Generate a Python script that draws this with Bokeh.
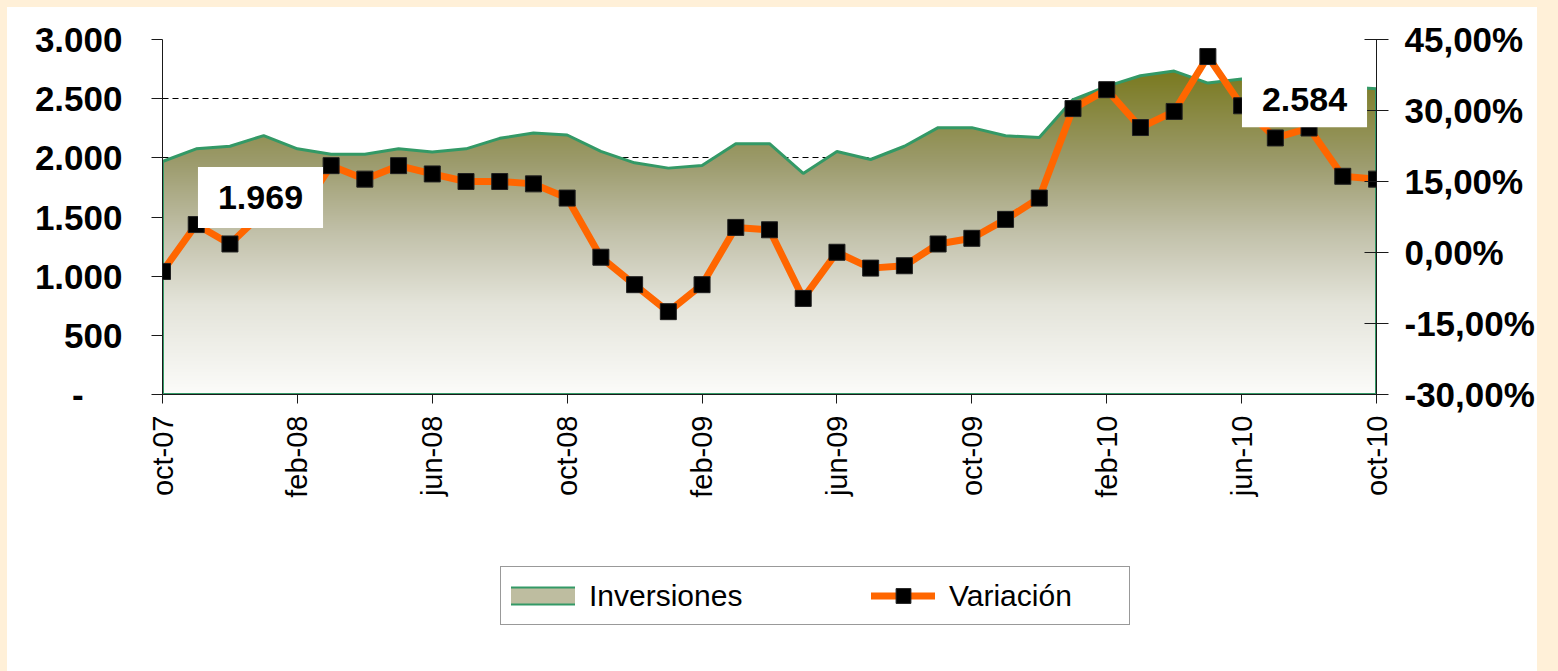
import numpy as np
from bokeh.plotting import figure
from bokeh.layouts import column
from bokeh.models import Range1d, LinearAxis, FixedTicker, Label, Legend, LegendItem
from bokeh.core.properties import value
from bokeh.embed import file_html
from bokeh.resources import INLINE

# ---------------- data ----------------
months = ["oct-07", "nov-07", "dic-07", "ene-08", "feb-08", "mar-08", "abr-08", "may-08",
          "jun-08", "jul-08", "ago-08", "sep-08", "oct-08", "nov-08", "dic-08", "ene-09",
          "feb-09", "mar-09", "abr-09", "may-09", "jun-09", "jul-09", "ago-09", "sep-09",
          "oct-09", "nov-09", "dic-09", "ene-10", "feb-10", "mar-10", "abr-10", "may-10",
          "jun-10", "jul-10", "ago-10", "sep-10", "oct-10"]

inversiones = [1969, 2076, 2098, 2188, 2076, 2030, 2030, 2076, 2050, 2076,
               2165, 2210, 2193, 2055, 1958, 1913, 1935, 2120, 2120, 1868,
               2053, 1986, 2098, 2255, 2255, 2187, 2171, 2492, 2604, 2694,
               2733, 2632, 2666, 2650, 2620, 2600, 2584]

variacion = [-4.0, 5.9, 1.8, 8.6, 7.5, 18.35, 15.5, 18.35, 16.6, 15.0,
             15.0, 14.5, 11.5, -1.0, -6.8, -12.5, -6.8, 5.3, 4.8, -9.7,
             0.05, -3.3, -2.8, 1.8, 3.0, 7.0, 11.5, 30.4, 34.4, 26.4,
             29.8, 41.4, 31.0, 24.2, 26.3, 16.1, 15.5]

left_ticks = [0, 500, 1000, 1500, 2000, 2500, 3000]
left_labels = ["-\u2007\u2007", "500", "1.000", "1.500", "2.000", "2.500", "3.000"]
right_ticks = [-30, -15, 0, 15, 30, 45]
right_labels = ["-30,00%", "-15,00%", "0,00%", "15,00%", "30,00%", "45,00%"]
x_tick_step = 4

# ---------------- styles ----------------
n = len(months)
x = np.arange(n)
FONT = "Liberation Sans"
GREEN = "#339966"
ORANGE = "#FF6600"
AXIS = "#1a1a1a"

p = figure(width=1530, height=533, output_backend="svg", toolbar_location=None,
           x_range=Range1d(0, n - 1), y_range=Range1d(left_ticks[0], left_ticks[-1]),
           min_border_left=155, min_border_right=157, min_border_top=32, min_border_bottom=146,
           background_fill_color="white", border_fill_color="white", outline_line_color=None)
p.extra_y_ranges = {"pct": Range1d(right_ticks[0], right_ticks[-1])}

# grid
p.xgrid.visible = False
p.ygrid.ticker = FixedTicker(ticks=left_ticks[1:-1])
p.ygrid.grid_line_color = "#000000"
p.ygrid.grid_line_dash = "6 4"
p.ygrid.grid_line_width = 1

# bottom axis
xa = p.xaxis[0]
xa.ticker = FixedTicker(ticks=list(range(0, n, x_tick_step)))
xa.major_label_overrides = {int(i): months[i] for i in range(0, n, x_tick_step)}
xa.major_label_orientation = np.pi / 2
xa.major_tick_out = 9
xa.major_tick_in = 0
xa.minor_tick_out = 0
xa.minor_tick_in = 0
xa.axis_line_color = AXIS
xa.major_tick_line_color = AXIS
xa.major_label_standoff = 12
xa.major_label_text_font = FONT
xa.major_label_text_font_size = "29px"
xa.major_label_text_color = "black"

# left axis
ya = p.yaxis[0]
ya.ticker = FixedTicker(ticks=left_ticks)
ya.major_label_overrides = {t: l for t, l in zip(left_ticks, left_labels)}
ya.major_tick_out = 11
ya.major_tick_in = 0
ya.minor_tick_out = 0
ya.minor_tick_in = 0
ya.axis_line_color = AXIS
ya.major_tick_line_color = AXIS
ya.major_label_standoff = 29
ya.major_label_text_font = FONT
ya.major_label_text_font_style = "bold"
ya.major_label_text_font_size = "35px"
ya.major_label_text_color = "black"

# right axis
ra = LinearAxis(y_range_name="pct", ticker=FixedTicker(ticks=right_ticks),
                major_label_overrides={t: l for t, l in zip(right_ticks, right_labels)},
                major_tick_out=12, major_tick_in=12, minor_tick_out=0, minor_tick_in=0,
                axis_line_color=AXIS, major_tick_line_color=AXIS,
                major_label_standoff=16, major_label_text_font=FONT,
                major_label_text_font_style="bold", major_label_text_font_size="35px",
                major_label_text_color="black")
p.add_layout(ra, "right")

# ---------------- gradient area (Inversiones) ----------------
nx, ny = 1218, 355
y_lo, y_hi = left_ticks[0], left_ticks[-1]
xs = (np.arange(nx) + 0.5) / nx * (n - 1)
ys = y_lo + (np.arange(ny) + 0.5) / ny * (y_hi - y_lo)
curve = np.interp(xs, x, inversiones)
top = max(inversiones)
t = np.clip((top - ys) / top, 0, 1)
stop_t = [0.0, 0.28, 0.5, 0.72, 1.0]
rr = np.interp(t, stop_t, [122, 156, 194, 228, 252])
gg = np.interp(t, stop_t, [122, 155, 193, 228, 252])
bb = np.interp(t, stop_t, [32, 108, 170, 218, 250])
img = np.zeros((ny, nx), dtype=np.uint32)
view = img.view(dtype=np.uint8).reshape((ny, nx, 4))
view[..., 0] = rr[:, None].astype(np.uint8)
view[..., 1] = gg[:, None].astype(np.uint8)
view[..., 2] = bb[:, None].astype(np.uint8)
view[..., 3] = np.where(ys[:, None] <= curve[None, :], 255, 0).astype(np.uint8)
p.image_rgba(image=[img], x=0, y=y_lo, dw=n - 1, dh=y_hi - y_lo, level="glyph")

p.patch(x=[0] + list(x) + [n - 1], y=[y_lo] + inversiones + [y_lo],
        fill_alpha=0, line_color=GREEN, line_width=3)

# ---------------- Variación line ----------------
p.line(x=x, y=variacion, y_range_name="pct", line_color=ORANGE,
       line_width=7, line_join="round")
p.scatter(x=x, y=variacion, y_range_name="pct", marker="square", size=16,
          fill_color="black", line_color="#202020")

# ---------------- data labels ----------------
def fmt(v):
    return f"{v:,}".replace(",", ".")

p.add_layout(Label(x=0, y=inversiones[0], x_offset=98, y_offset=-36, text=fmt(inversiones[0]),
                   text_font=FONT, text_font_style="bold", text_font_size="34px",
                   text_align="center", text_baseline="middle", text_color="black",
                   background_fill_color="white",
                   padding=dict(left=20, right=20, top=19, bottom=19)))
p.add_layout(Label(x=n - 1, y=inversiones[-1], x_offset=-72, y_offset=-11, text=fmt(inversiones[-1]),
                   text_font=FONT, text_font_style="bold", text_font_size="34px",
                   text_align="center", text_baseline="middle", text_color="black",
                   background_fill_color="white",
                   padding=dict(left=20, right=20, top=16, bottom=16)))

# ---------------- legend (own strip below the chart) ----------------
# the series are drawn again here only as legend sources; the ranges keep them out of view
q = figure(width=1530, height=131, output_backend="svg", toolbar_location=None,
           x_range=Range1d(n, n + 1), y_range=Range1d(0, 1), x_axis_type=None, y_axis_type=None,
           min_border=0, background_fill_color="white", border_fill_color="white",
           outline_line_color=None)
q.grid.visible = False
sw_border = q.line(x=x, y=inversiones, line_color=GREEN, line_width=19, line_cap="square")
sw_fill = q.line(x=x, y=inversiones, line_color="#BEBDA0", line_width=15, line_cap="square")
lg_line = q.line(x=x, y=variacion, line_color=ORANGE, line_width=7, line_cap="round")
lg_mark = q.scatter(x=x, y=variacion, marker="square", size=16, fill_color="black",
                    line_color="#202020")

legend = Legend(items=[LegendItem(label=value("Inversiones"), renderers=[sw_border, sw_fill]),
                       LegendItem(label=value("Variación"), renderers=[lg_line, lg_mark])],
                orientation="horizontal", location=(338, 46),
                padding=10, spacing=112, margin=0,
                glyph_width=64, glyph_height=37, label_standoff=14, label_width=170,
                label_text_font=FONT, label_text_font_size="30px", label_text_color="black",
                border_line_color="#333333", border_line_width=1,
                background_fill_color="white", background_fill_alpha=1.0)
q.add_layout(legend, "center")

layout = column(p, q, spacing=0, margin=(7, 0, 0, 7))

CREAM = "#FFF0D8"
page_bg = ("<style>html, body { background: "
           f"linear-gradient(to right, {CREAM} 7px, rgba(255,255,255,0) 7px), "
           f"linear-gradient(to left, {CREAM} 21px, rgba(255,255,255,0) 21px), "
           f"linear-gradient(to bottom, {CREAM} 7px, #FFFFFF 7px) !important; }}</style>\n</head>")
html = file_html(layout, INLINE)
html = html.replace("</head>", page_bg, 1)
open("out.html", "w").write(html)
